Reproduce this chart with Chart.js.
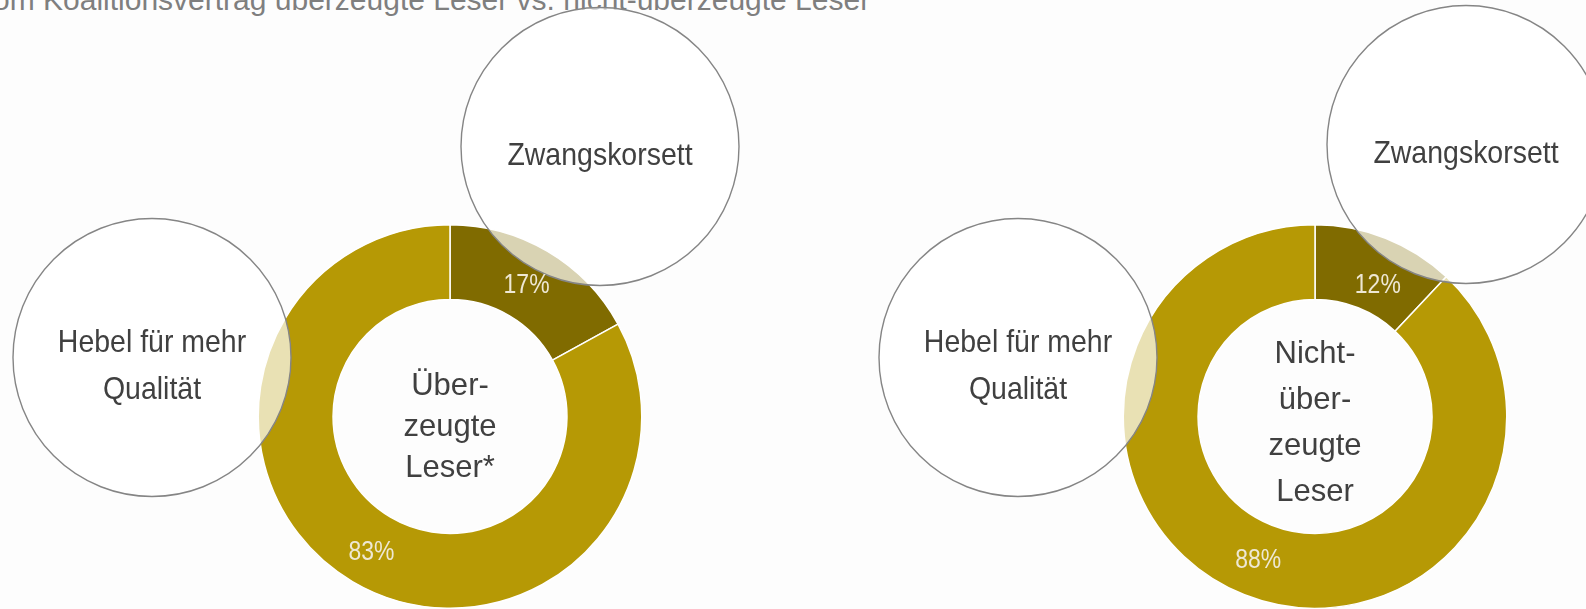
<!DOCTYPE html>
<html>
<head>
<meta charset="utf-8">
<script src="https://cdn.jsdelivr.net/npm/chart.js@4.4.1/dist/chart.umd.min.js"></script>
<style>
  html, body {
    margin: 0;
    padding: 0;
    background: #fdfdfd;
    width: 1586px;
    height: 609px;
    overflow: hidden;
    position: relative;
    font-family: 'Liberation Sans', Arial, sans-serif;
  }
  .title {
    position: absolute;
    left: -7px;
    top: -15px;
    font-size: 30px;
    line-height: 30px;
    color: #7f7f7f;
    white-space: nowrap;
  }
  canvas {
    position: absolute;
    top: 0;
  }
  #chart-left { left: 0; }
  #chart-right { left: 793px; }
</style>
</head>
<body>
<div class="title">om Koalitionsvertrag überzeugte Leser vs. nicht-überzeugte Leser</div>
<canvas id="chart-left" width="793" height="609"></canvas>
<canvas id="chart-right" width="793" height="609"></canvas>
<script>
const segmentLabels = ['Zwangskorsett', 'Hebel für mehr Qualität'];
const convincedValues = [17, 83];
const notConvincedValues = [12, 88];
const convincedCenter = ['Über-', 'zeugte', 'Leser*'];
const notConvincedCenter = ['Nicht-', 'über-', 'zeugte', 'Leser'];
const bubbleTexts = [['Zwangskorsett'], ['Hebel für mehr', 'Qualität']];

const segmentColors = ['#806b00', '#b69905'];
const textDark = '#404040';
const labelLight = '#eee8d4';
const FONT = "'Liberation Sans', Arial, sans-serif";

// the source font is tall and narrow, so squeeze horizontally
function drawText(ctx, text, x, y, size, sx) {
  ctx.save();
  ctx.font = `${size}px ${FONT}`;
  ctx.translate(x, y);
  ctx.scale(sx, 1);
  ctx.fillText(text, 0, 0);
  ctx.restore();
}

// circles + labels on top of the ring
const overlayPlugin = {
  id: 'overlay',
  afterDatasetsDraw(chart, args, opts) {
    const ctx = chart.ctx;
    const arc = chart.getDatasetMeta(0).data[0];
    const cx = arc.x;
    const cy = arc.y;

    opts.bubbles.forEach((b, i) => {
      ctx.save();
      ctx.beginPath();
      ctx.arc(cx + b.dx, cy + b.dy, b.r, 0, Math.PI * 2);
      ctx.fillStyle = 'rgba(255,255,255,0.7)';
      ctx.fill();
      ctx.lineWidth = 1.4;
      ctx.strokeStyle = '#858585';
      ctx.stroke();

      ctx.fillStyle = textDark;
      ctx.textAlign = 'center';
      ctx.textBaseline = 'alphabetic';
      bubbleTexts[i].forEach((line, j) => {
        drawText(ctx, line, cx + b.dx, cy + b.dy + b.textY + j * 47, 32, 0.89);
      });
      ctx.restore();
    });

    // percent labels
    const meta = chart.getDatasetMeta(0);
    const values = chart.data.datasets[0].data;
    ctx.save();
    ctx.fillStyle = labelLight;
    ctx.textAlign = 'center';
    ctx.textBaseline = 'middle';
    meta.data.forEach((el, i) => {
      const p = el.tooltipPosition(true);
      const nudge = opts.nudges[i];
      drawText(ctx, values[i] + '%', p.x + nudge[0], p.y + nudge[1], 27, 0.85);
    });
    ctx.restore();

    // centre text
    ctx.save();
    ctx.fillStyle = textDark;
    ctx.textAlign = 'center';
    ctx.textBaseline = 'alphabetic';
    opts.center.forEach((line, j) => {
      drawText(ctx, line, cx, cy + opts.centerTop + j * opts.centerGap, 32, 0.97);
    });
    ctx.restore();
  },
};

function makeDonut(id, values, padding, extra) {
  return new Chart(document.getElementById(id), {
    type: 'doughnut',
    data: {
      labels: segmentLabels,
      datasets: [
        {
          data: values,
          backgroundColor: segmentColors,
          borderColor: '#ffffff',
          borderWidth: 1.5,
          hoverOffset: 0,
        },
      ],
    },
    options: {
      responsive: false,
      animation: false,
      events: [],
      cutout: '61%',
      layout: { padding },
      plugins: {
        legend: { display: false },
        tooltip: { enabled: false },
        overlay: extra,
      },
    },
    plugins: [overlayPlugin],
  });
}

makeDonut('chart-left', convincedValues,
  { left: 257, right: 150, top: 224, bottom: 0 },
  {
    bubbles: [
      { dx: 150, dy: -270, r: 139, textY: 18 },
      { dx: -298, dy: -59, r: 139, textY: -6 },
    ],
    nudges: [[-2, 2], [0, 3]],
    center: convincedCenter,
    centerTop: -22,
    centerGap: 41,
  });

makeDonut('chart-right', notConvincedValues,
  { left: 329, right: 78, top: 224, bottom: 0 },
  {
    bubbles: [
      { dx: 151, dy: -272, r: 139, textY: 18 },
      { dx: -297, dy: -59, r: 139, textY: -6 },
    ],
    nudges: [[6, 13], [0, 1]],
    center: notConvincedCenter,
    centerTop: -54,
    centerGap: 46,
  });
</script>
</body>
</html>
